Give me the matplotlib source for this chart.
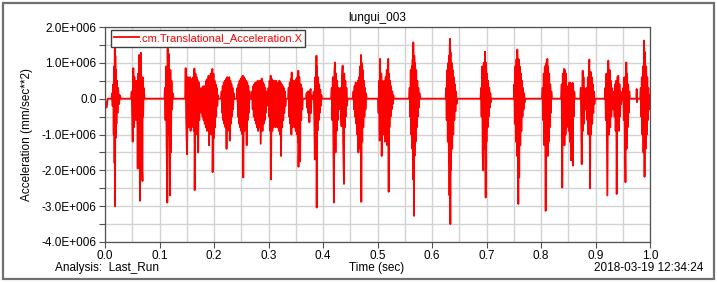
import numpy as np
import matplotlib
matplotlib.use("Agg")
import matplotlib.pyplot as plt
from matplotlib.patches import Rectangle

plt.rcParams['font.family'] = ['Liberation Sans', 'DejaVu Sans']

# values: time (sec) and acceleration (units of 1E+006 mm/sec**2)
time_s = [
    0.000, 0.003, 0.005,
    0.012, 0.013, 0.014, 0.015, 0.016, 0.017, 0.0175, 0.018, 0.0185, 0.019, 0.0195, 0.020, 0.021, 0.022, 0.023, 0.024, 0.026, 0.027, 0.029,
    0.048, 0.049, 0.050, 0.0508, 0.052, 0.053, 0.054, 0.055, 0.056, 0.057, 0.058, 0.059, 0.060, 0.061, 0.062, 0.063, 0.0642, 0.065, 0.066, 0.067, 0.0688, 0.069, 0.070, 0.071, 0.072, 0.073,
    0.109, 0.110, 0.111, 0.112, 0.113, 0.1143, 0.115, 0.116, 0.117, 0.118, 0.119, 0.120, 0.121, 0.122, 0.123, 0.124, 0.126,
    0.147, 0.148, 0.149, 0.1505, 0.152, 0.153, 0.154, 0.155, 0.156, 0.157, 0.158, 0.159, 0.160, 0.161, 0.162, 0.163, 0.164, 0.1645, 0.166, 0.167, 0.168, 0.169, 0.170, 0.171, 0.172, 0.173, 0.174, 0.175, 0.176,
    0.177, 0.178, 0.179, 0.180, 0.181, 0.182, 0.183, 0.184, 0.185, 0.186, 0.187, 0.188, 0.189, 0.190, 0.191, 0.192, 0.193, 0.194, 0.195, 0.196, 0.197, 0.1975, 0.199, 0.200, 0.201, 0.202, 0.203, 0.204, 0.205, 0.206, 0.207, 0.208,
    0.213, 0.214, 0.215, 0.216, 0.217, 0.218, 0.219, 0.220, 0.221, 0.222, 0.223, 0.224, 0.225, 0.226, 0.227, 0.228, 0.229, 0.230, 0.231, 0.232, 0.233, 0.234, 0.235, 0.236, 0.237,
    0.242, 0.243, 0.244, 0.245, 0.246, 0.247, 0.248, 0.249, 0.250, 0.251, 0.252, 0.2528, 0.2537, 0.255, 0.256, 0.257, 0.258, 0.259, 0.260, 0.261, 0.262, 0.263, 0.264, 0.265, 0.266,
    0.269, 0.270, 0.271, 0.272, 0.273, 0.274, 0.275, 0.276, 0.277, 0.278, 0.279, 0.280, 0.281, 0.282, 0.283, 0.284, 0.2857, 0.2875, 0.289, 0.290, 0.291, 0.292, 0.293, 0.294, 0.295, 0.296, 0.297, 0.298,
    0.299, 0.300, 0.301, 0.302, 0.303, 0.304, 0.3045, 0.306, 0.307, 0.308, 0.309, 0.310, 0.311, 0.312, 0.313, 0.314, 0.315, 0.316, 0.317, 0.318, 0.319, 0.320, 0.321, 0.322, 0.323, 0.324, 0.325, 0.326, 0.327, 0.328, 0.329, 0.330, 0.331, 0.332,
    0.336, 0.337, 0.338, 0.339, 0.340, 0.341, 0.342, 0.3425, 0.344, 0.345, 0.346, 0.347, 0.348, 0.349, 0.350, 0.351, 0.352, 0.353, 0.354, 0.3547, 0.355, 0.3565, 0.358, 0.359, 0.360, 0.361, 0.362, 0.363,
    0.369, 0.370, 0.371, 0.372, 0.373, 0.374, 0.375, 0.376, 0.3774, 0.378, 0.379, 0.380,
    0.382, 0.383, 0.384, 0.385, 0.386, 0.387, 0.388, 0.3884, 0.389, 0.390, 0.391, 0.392, 0.393, 0.394, 0.395, 0.396, 0.397, 0.398,
    0.415, 0.416, 0.417, 0.418, 0.419, 0.420, 0.421, 0.422, 0.423, 0.424, 0.425, 0.426, 0.427, 0.428, 0.429, 0.430, 0.431, 0.432, 0.433, 0.434, 0.435, 0.436, 0.437, 0.4385, 0.439, 0.440, 0.441, 0.442, 0.443, 0.444, 0.445,
    0.455, 0.456, 0.457, 0.458, 0.459, 0.460, 0.461, 0.462, 0.463, 0.464, 0.465, 0.466, 0.467, 0.468, 0.469, 0.4697, 0.4703, 0.471, 0.472, 0.473, 0.474, 0.475, 0.476, 0.477, 0.478, 0.479, 0.480,
    0.501, 0.502, 0.503, 0.504, 0.5046, 0.506, 0.507, 0.5077, 0.509, 0.510, 0.511, 0.512, 0.513, 0.514, 0.515, 0.516, 0.517, 0.518, 0.519, 0.5198, 0.5205, 0.521, 0.522, 0.523, 0.524, 0.525, 0.526, 0.527, 0.528, 0.529, 0.530,
    0.558, 0.559, 0.560, 0.561, 0.562, 0.563, 0.564, 0.5645, 0.5650, 0.5657, 0.5670, 0.5675, 0.568, 0.569, 0.570, 0.571, 0.572, 0.573, 0.574, 0.575, 0.576, 0.577, 0.578,
    0.625, 0.626, 0.627, 0.628, 0.629, 0.630, 0.631, 0.6315, 0.632, 0.6325, 0.633, 0.6337, 0.634, 0.635, 0.636, 0.637, 0.638, 0.639, 0.640, 0.641, 0.642, 0.643, 0.644, 0.645, 0.646,
    0.689, 0.690, 0.691, 0.692, 0.693, 0.694, 0.695, 0.696, 0.6972, 0.6985, 0.699, 0.700, 0.701, 0.702, 0.703, 0.704, 0.705, 0.706, 0.707, 0.708, 0.709,
    0.750, 0.751, 0.752, 0.753, 0.754, 0.755, 0.756, 0.7565, 0.7584, 0.759, 0.760, 0.761, 0.762, 0.763, 0.764, 0.765, 0.766, 0.767, 0.768, 0.769, 0.770, 0.771,
    0.802, 0.803, 0.804, 0.805, 0.806, 0.807, 0.808, 0.8086, 0.810, 0.811, 0.8116, 0.8125, 0.813, 0.814, 0.815, 0.816, 0.817, 0.818, 0.819, 0.820,
    0.837, 0.838, 0.839, 0.840, 0.841, 0.8422, 0.843, 0.844, 0.845, 0.846, 0.847, 0.848, 0.849, 0.850, 0.851, 0.852, 0.853, 0.854, 0.855, 0.856, 0.857, 0.858, 0.8585, 0.859, 0.860, 0.861, 0.862,
    0.872, 0.873, 0.8747, 0.8765, 0.877, 0.878, 0.879, 0.880, 0.881, 0.882, 0.883, 0.884, 0.885, 0.886, 0.887, 0.888, 0.8887, 0.890, 0.891, 0.892, 0.893, 0.894, 0.895, 0.896, 0.897, 0.898, 0.899,
    0.917, 0.918, 0.919, 0.920, 0.921, 0.9217, 0.9235, 0.925, 0.926, 0.927, 0.928, 0.929, 0.930, 0.931, 0.932, 0.933, 0.934, 0.935, 0.936, 0.937, 0.938, 0.9389, 0.940, 0.942, 0.943, 0.944, 0.945, 0.946, 0.947, 0.948,
    0.950, 0.951, 0.952, 0.953, 0.954, 0.955, 0.9565, 0.957, 0.958, 0.959, 0.960, 0.961, 0.962, 0.963,
    0.975, 0.9756, 0.976, 0.977,
    0.982, 0.983, 0.984, 0.985, 0.986, 0.987, 0.988, 0.989, 0.990, 0.991, 0.992, 0.993, 0.994, 0.995, 0.996, 0.997, 0.998, 0.999, 1.000,
]

accel_e6 = [
    0.0, -0.25, 0.0,
    0.0, 0.15, -0.2, 0.4, -1.0, 0.9, -1.8, 1.4, -3.0, 1.2, -1.1, 0.8, -0.7, 0.5, -0.4, 0.3, -0.15, 0.1, 0.0,
    0.0, 0.2, -0.5, -1.2, 0.85, -0.8, 0.6, -0.5, 0.4, -0.6, 0.5, 0.3, -1.95, 0.7, -1.2, 1.22, -2.85, 1.0, 1.28, -1.5, -2.3, 0.6, -0.5, 0.3, 0.1, 0.0,
    0.0, 0.3, -0.6, 0.9, -1.2, -2.9, 1.4, -1.0, 1.25, -0.9, -2.7, 0.8, -1.5, 0.5, -0.3, 0.15, 0.0,
    0.0, 0.85, -0.6, -1.55, 0.6, -0.8, 0.5, -0.7, 0.6, -0.9, 0.55, -0.8, 0.5, -0.7, 0.6, -0.9, 0.84, -2.55, 0.7, -1.0, 0.6, -0.8, 0.5, -1.5, 0.45, -0.6, 0.3, -0.3, 0.1,
    -0.4, 0.3, -0.5, 0.35, -0.6, 0.3, -0.7, 0.36, -0.8, 0.5, -0.9, 0.55, -0.7, 0.64, -1.3, 0.6, -0.9, 0.7, -1.0, 0.6, 0.83, -2.05, 0.7, -1.1, 0.5, -0.8, 0.4, -0.5, 0.3, -0.2, 0.1, 0.0,
    0.0, 0.2, -0.4, 0.35, -0.6, 0.45, -0.7, 0.5, -0.8, 0.55, -1.4, 0.6, -0.9, 0.5, -0.8, 0.6, -1.17, 0.5, -0.7, 0.4, -0.5, 0.3, -0.3, 0.15, 0.0,
    0.0, 0.3, -0.5, 0.4, -0.7, 0.5, -0.8, 0.55, -0.9, 0.6, -1.0, 0.64, -2.2, 0.6, -0.9, 0.55, -0.8, 0.5, -1.3, 0.45, -0.6, 0.35, -0.4, 0.2, 0.0,
    0.0, 0.2, -0.3, 0.35, -0.5, 0.4, -0.6, 0.45, -0.7, 0.4, -0.8, 0.5, -0.9, 0.45, -0.8, 0.5, -1.26, 0.56, -0.9, 0.45, -0.7, 0.4, -0.6, 0.3, -0.4, 0.2, -0.2, 0.0,
    0.0, 0.3, -0.5, 0.5, -0.9, 0.64, -2.25, 0.55, -0.9, 0.5, -0.8, 0.5, -0.7, 0.45, -0.8, 0.5, -0.7, 0.4, -0.8, 0.45, -0.9, 0.5, -1.0, 0.45, -1.6, 0.4, -0.8, 0.35, -0.6, 0.3, -0.4, 0.2, -0.2, 0.0,
    0.0, 0.3, -0.5, 0.45, -0.7, 0.55, -1.0, 0.73, -0.8, 0.5, -0.7, 0.45, -0.8, 0.5, -0.9, 0.55, -1.0, 0.6, -1.2, 0.78, -1.9, 0.6, -1.75, 0.4, -0.6, 0.3, -0.3, 0.0,
    0.0, 0.15, -0.25, 0.2, -0.4, 0.2, -0.66, 0.2, 0.27, -0.4, 0.1, 0.0,
    0.0, 0.2, -0.5, -1.7, 0.6, -1.0, 1.2, -3.04, 0.9, -0.9, 0.6, -0.6, 0.4, -0.4, 0.25, -0.2, 0.1, 0.0,
    0.0, 0.3, -0.6, 0.6, -1.0, -2.9, 0.8, 1.01, -1.5, 0.7, -0.9, 0.5, -0.6, 0.3, -0.3, 0.15, -0.2, 0.3, -0.5, -0.77, 0.6, 0.92, -1.2, -2.38, 0.7, -0.8, 0.5, -0.5, 0.3, -0.2, 0.0,
    0.0, 0.2, -0.3, 0.35, -0.5, 0.45, -0.7, 0.4, -1.0, 0.5, -1.5, 0.6, -1.1, 0.9, -1.4, 1.22, -2.88, 1.0, -1.2, 0.8, -0.8, 0.5, -0.5, 0.3, -0.3, 0.15, 0.0,
    0.0, -0.4, 0.5, -1.17, 1.11, -0.9, 0.7, -1.6, 0.5, -0.8, 0.4, -1.0, 0.5, -1.2, 0.6, -1.1, 0.8, -1.3, 1.0, 1.11, -2.6, 0.7, -0.8, 0.5, -0.5, 0.35, -0.3, 0.2, -0.15, 0.1, 0.0,
    0.0, 0.3, -0.5, 0.8, -1.0, 0.9, -1.4, 1.1, -2.25, 1.57, -3.27, 1.2, -1.6, 1.0, -1.2, 0.8, -0.8, 0.5, -0.5, 0.3, -0.25, 0.15, 0.0,
    0.0, 0.3, -0.6, 0.8, -1.2, 1.0, -1.8, 1.2, -2.7, 1.4, 1.67, -3.5, 1.3, -2.0, 1.0, -1.4, 0.8, -1.0, 0.6, -0.6, 0.4, -0.35, 0.2, -0.15, 0.0,
    0.0, 0.3, -0.5, 0.9, -1.6, -2.0, 1.0, -1.4, 1.31, -2.76, 1.0, -1.2, 0.7, -0.8, 0.5, -0.5, 0.3, -0.25, 0.15, -0.1, 0.0,
    0.0, 0.4, -0.7, 0.9, -1.2, 1.1, -1.6, 1.37, -2.94, 1.1, -2.2, 0.9, -1.3, 0.7, -0.9, 0.5, -0.5, 0.3, -0.3, 0.15, -0.1, 0.0,
    0.0, 0.3, -0.6, 0.7, -1.3, 0.9, -1.8, -3.13, 1.0, -1.5, 1.11, -1.6, 0.9, -1.2, 0.7, -0.8, 0.4, -0.4, 0.2, 0.0,
    0.0, 0.4, -2.48, 0.7, -1.2, 0.83, -1.3, 0.8, -1.0, 0.7, -0.8, 0.3, -0.5, 0.35, -0.9, 0.45, -1.2, 0.44, -1.72, 0.4, -1.0, 0.44, -1.87, 0.35, -0.5, 0.2, 0.0,
    0.0, 0.3, -1.83, 0.78, -0.9, 0.6, -0.7, 0.3, -0.3, 0.15, -0.2, 0.3, -0.6, 0.6, -1.0, 0.9, 1.09, -2.5, 0.75, -1.0, 0.6, -0.7, 0.4, -0.4, 0.2, -0.15, 0.0,
    0.0, 0.3, -0.6, 0.7, -1.2, -2.7, 1.06, -1.0, 0.8, -0.8, 0.5, -0.5, 0.3, -0.3, 0.15, -0.2, 0.2, -0.5, 0.4, -0.9, 0.5, -2.66, 0.6, 0.64, -0.9, 0.4, -0.5, 0.2, -0.15, 0.0,
    0.0, 0.3, -0.6, 0.6, -1.2, -2.33, 1.01, -1.4, 0.7, -0.8, 0.4, -0.4, 0.2, 0.0,
    0.0, 0.27, -0.1, 0.0,
    0.0, 0.3, -0.5, 0.6, -1.0, 0.9, -1.5, 1.62, -2.18, 1.3, -1.4, 0.9, -1.0, 0.6, -0.6, 0.3, -0.3, 0.1, 0.0,
]

x_ticks = [0.0, 0.1, 0.2, 0.3, 0.4, 0.5, 0.6, 0.7, 0.8, 0.9, 1.0]
x_tick_labels = ["0.0", "0.1", "0.2", "0.3", "0.4", "0.5", "0.6", "0.7", "0.8", "0.9", "1.0"]
y_ticks = [-4.0e6, -3.0e6, -2.0e6, -1.0e6, 0.0, 1.0e6, 2.0e6]
y_tick_labels = ["-4.0E+006", "-3.0E+006", "-2.0E+006", "-1.0E+006", "0.0", "1.0E+006", "2.0E+006"]

fig = plt.figure(figsize=(7.17, 2.82), dpi=100)
fig.patches.append(Rectangle((3 / 717, 3 / 282), 711 / 717, 276 / 282, transform=fig.transFigure,
                             fill=False, edgecolor="#707070", linewidth=1.6))

ax = fig.add_axes([105 / 717, 40 / 282, 545 / 717, 215 / 282])
ax.plot(time_s, np.array(accel_e6) * 1e6, color="#ff0000", linewidth=1.3,
        label=".cm.Translational_Acceleration.X")

ax.set_xlim(0, 1.0)
ax.set_ylim(-4.0e6, 2.0e6)
ax.set_xticks(x_ticks)
ax.set_xticklabels(x_tick_labels)
ax.set_yticks(y_ticks)
ax.set_yticklabels(y_tick_labels)
ax.set_xticks(np.arange(0.05, 1.0, 0.1), minor=True)
ax.set_yticks(np.arange(-3.5e6, 2.0e6, 1.0e6), minor=True)
ax.grid(True, which="both", color="#d2d2d2", linewidth=1.0)
ax.set_axisbelow(True)
ax.tick_params(axis="both", which="major", labelsize=8.5, length=4, width=0.8, color="#505050", pad=2)
ax.tick_params(axis="y", which="minor", length=4, width=0.8, color="#505050")
ax.tick_params(axis="x", which="minor", length=0)
for s in ax.spines.values():
    s.set_color("#505050")
    s.set_linewidth(0.9)

ax.set_title("lungui_003", fontsize=8.5, pad=4)
ax.set_ylabel("Acceleration (mm/sec**2)", fontsize=8.5, labelpad=6)
fig.text(377 / 717, 1 - 268 / 282, "Time (sec)", ha="center", va="center", fontsize=8.5)
fig.text(55 / 717, 1 - 268 / 282, "Analysis:  Last_Run", ha="left", va="center", fontsize=8.5)
fig.text(703 / 717, 1 - 268 / 282, "2018-03-19 12:34:24", ha="right", va="center", fontsize=8.5)

leg = ax.legend(loc="upper left", bbox_to_anchor=(6 / 545, 1 - 3 / 215), borderaxespad=0,
                fancybox=False, framealpha=1, edgecolor="#404040", fontsize=8,
                handlelength=2.2, handletextpad=0.0, borderpad=0.3)
leg.get_frame().set_linewidth(1.0)
for t in leg.get_texts():
    t.set_color("#ff0000")

fig.savefig("out.png", dpi=100)
